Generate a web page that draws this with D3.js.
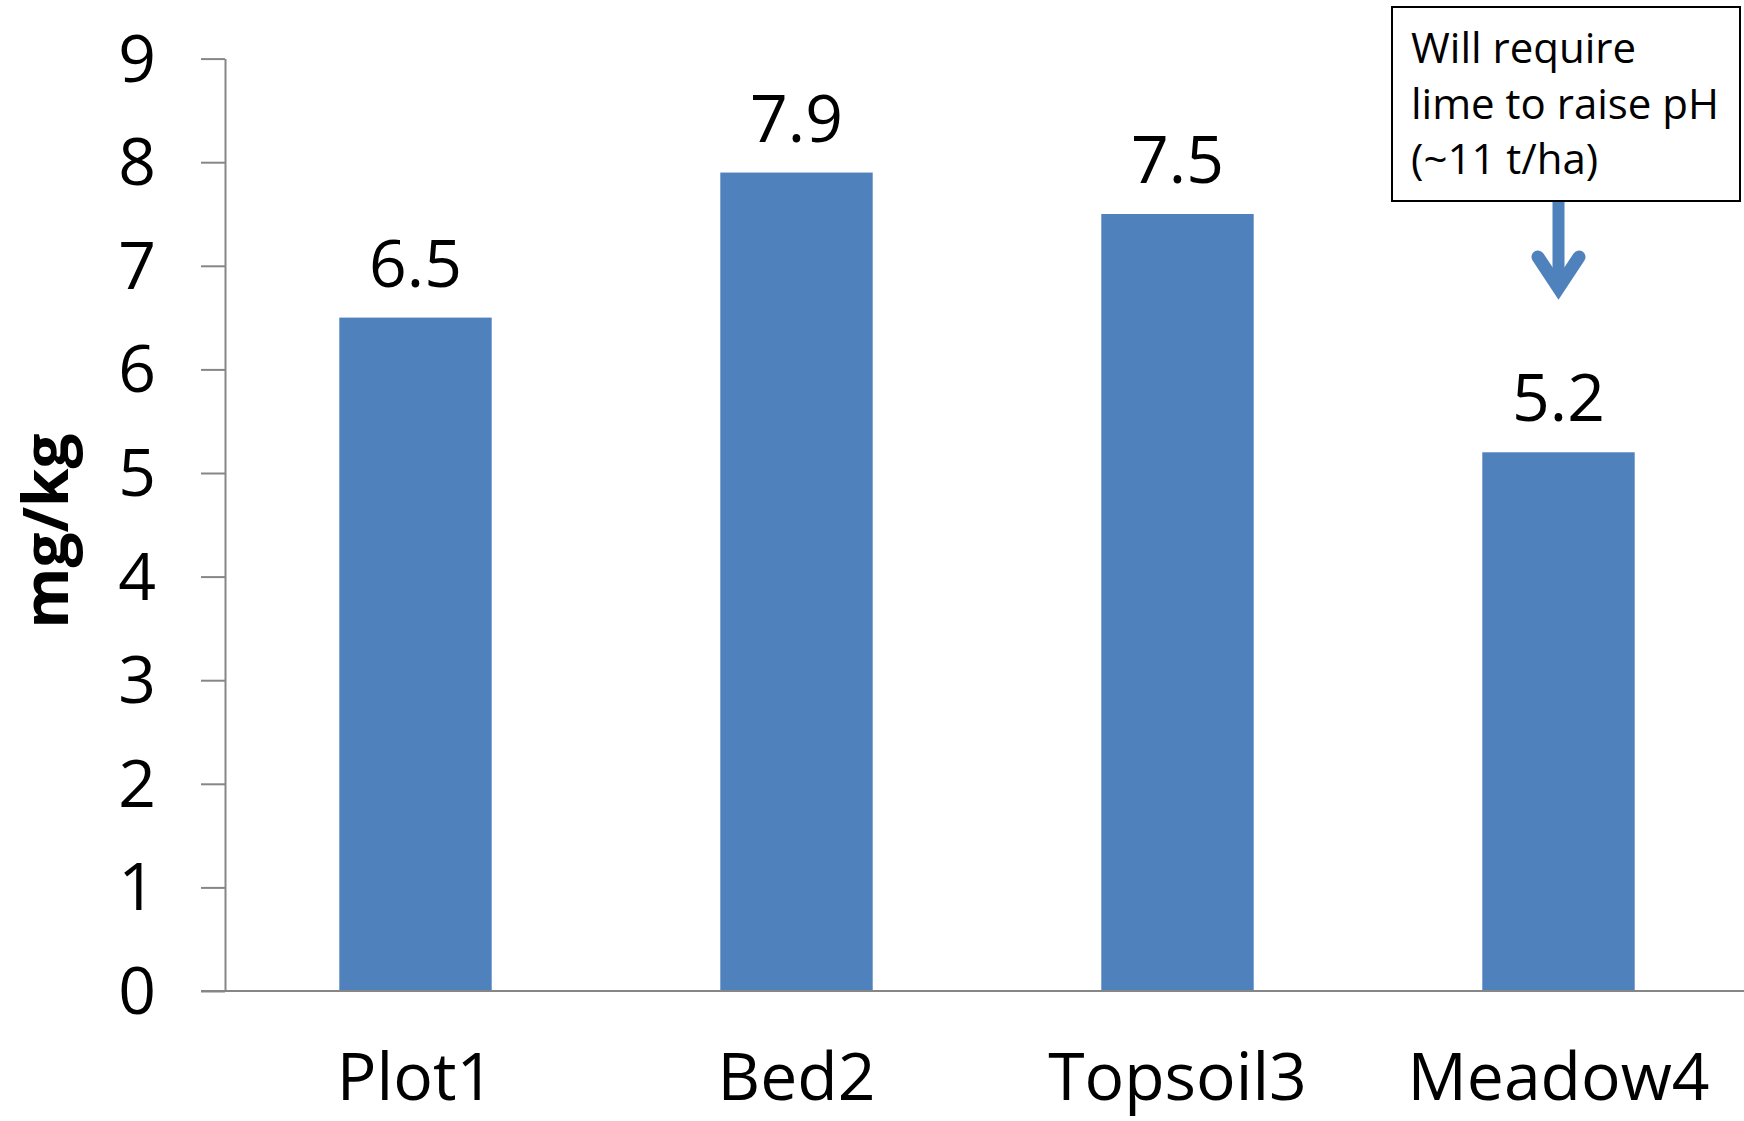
<!DOCTYPE html>
<html>
<head>
<meta charset="utf-8">
<script src="https://cdn.jsdelivr.net/npm/d3@7"></script>
<style>
  html, body { margin: 0; padding: 0; background: #fff; }
  svg { display: block; }
  text { font-family: "Open Sans", sans-serif; fill: #000; }
</style>
</head>
<body>
<svg id="chart" width="1744" height="1121"></svg>
<script>
const categories = ["Plot1", "Bed2", "Topsoil3", "Meadow4"];
const values = [6.5, 7.9, 7.5, 5.2];
const yTicks = [0, 1, 2, 3, 4, 5, 6, 7, 8, 9];
const yTitle = "mg/kg";
const noteLines = ["Will require", "lime to raise pH", "(~11 t/ha)"];
const noteCategory = "Meadow4";

const svg = d3.select("#chart");
const barColor = "#4F81BD";
const axisColor = "#868686";

const y = d3.scaleLinear().domain([0, 9]).range([991, 58.6]);
const x = d3.scaleBand().domain(categories).range([225, 1749])
  .paddingInner(0.6).paddingOuter(0.3);

// Y axis
const yAxis = d3.axisLeft(y).tickValues(yTicks).tickSize(24).tickSizeOuter(0).tickPadding(45)
  .tickFormat(d3.format("d"));
const gy = svg.append("g").attr("transform", "translate(225,0)").call(yAxis);
gy.select(".domain").attr("stroke", axisColor).attr("stroke-width", 2);
gy.selectAll(".tick line").attr("stroke", axisColor).attr("stroke-width", 2);
gy.selectAll(".tick text")
  .attr("font-size", 66).attr("font-family", "Open Sans, sans-serif")
  .attr("fill", "#000").attr("dy", "0.34em");

// Bars
svg.append("g").selectAll("rect").data(values).join("rect")
  .attr("x", (d, i) => x(categories[i]))
  .attr("width", x.bandwidth())
  .attr("y", d => y(d))
  .attr("height", d => y(0) - y(d))
  .attr("fill", barColor);

// X axis line
svg.append("line").attr("x1", 201).attr("x2", 1744).attr("y1", y(0)).attr("y2", y(0))
  .attr("stroke", axisColor).attr("stroke-width", 2);

// Value labels
svg.append("g").selectAll("text").data(values).join("text")
  .attr("x", (d, i) => x(categories[i]) + x.bandwidth() / 2)
  .attr("y", d => y(d) - 31)
  .attr("text-anchor", "middle").attr("font-size", 66)
  .text(d => d3.format(".1f")(d));

// Category labels
svg.append("g").selectAll("text").data(categories).join("text")
  .attr("x", d => x(d) + x.bandwidth() / 2)
  .attr("y", 1100)
  .attr("text-anchor", "middle").attr("font-size", 66)
  .text(d => d);

// Y title
svg.append("text")
  .attr("transform", "translate(68,531) rotate(-90)")
  .attr("text-anchor", "middle").attr("font-size", 62).attr("font-weight", "bold")
  .text(yTitle);

// Annotation box
const cx = x(noteCategory) + x.bandwidth() / 2;
svg.append("rect").attr("x", 1392).attr("y", 7).attr("width", 348).attr("height", 194)
  .attr("fill", "#fff").attr("stroke", "#000").attr("stroke-width", 2);
svg.append("g").selectAll("text").data(noteLines).join("text")
  .attr("x", 1411).attr("y", (d, i) => 63 + i * 55.5)
  .attr("font-size", 42).text(d => d);

// Arrow
svg.append("line").attr("x1", cx).attr("x2", cx).attr("y1", 202).attr("y2", 285)
  .attr("stroke", barColor).attr("stroke-width", 12);
svg.append("path")
  .attr("d", `M${cx - 20.5},${257} L${cx},${288} L${cx + 20.5},${257}`)
  .attr("fill", "none").attr("stroke", barColor).attr("stroke-width", 13)
  .attr("stroke-linecap", "round").attr("stroke-linejoin", "miter").attr("stroke-miterlimit", 10);
</script>
</body>
</html>
